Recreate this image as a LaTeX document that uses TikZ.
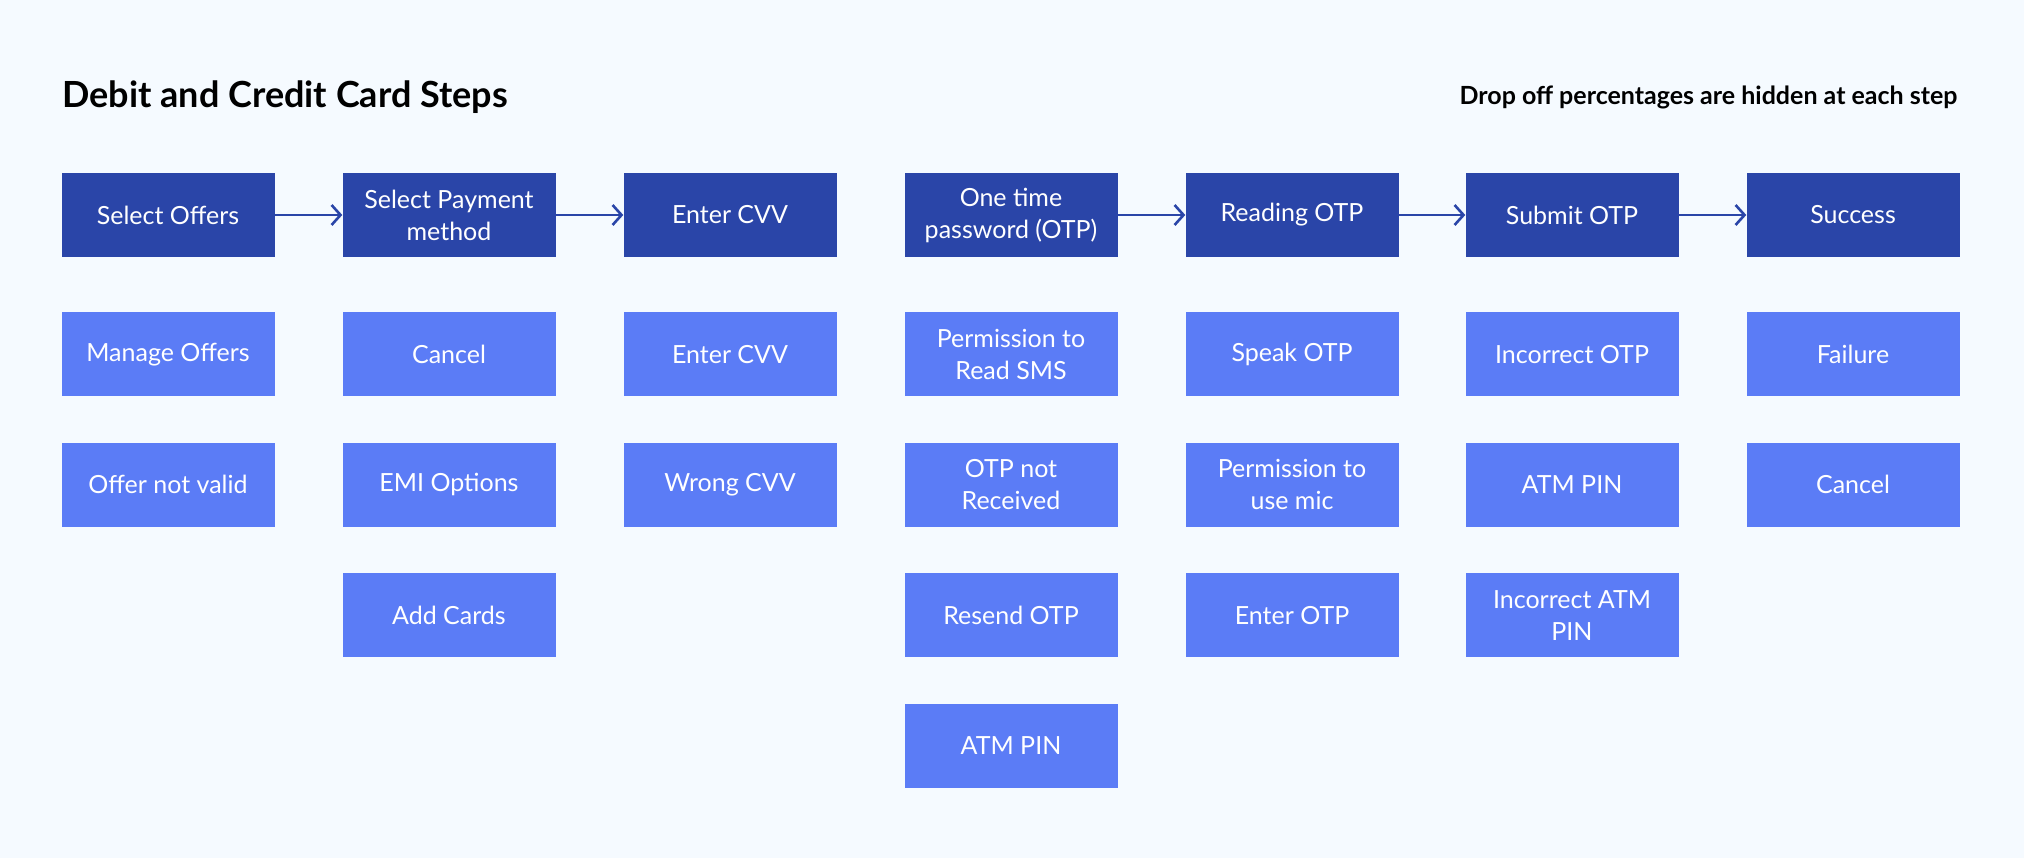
\documentclass[tikz,border=0pt]{standalone}
\usepackage{fontspec}
\setmainfont{Lato}
\usetikzlibrary{positioning,arrows.meta}
\definecolor{stepblue}{HTML}{2A45A8}
\definecolor{subblue}{HTML}{5B7CF6}
\definecolor{pagebg}{HTML}{F5FAFF}

\begin{document}
\begin{tikzpicture}[
  x=1pt, y=-1pt,
  node distance=46pt,
  stepbox/.style={rectangle, fill=stepblue, text=white, minimum width=213pt, minimum height=84pt, inner sep=0pt, align=center, font=\fontsize{25}{32}\selectfont},
  subbox/.style={stepbox, fill=subblue},
  arrow/.style={-{Straight Barb[length=9pt, width=20pt]}, line width=2.6pt, draw=stepblue},
  heading/.style={font=\bfseries\fontsize{36}{42}\selectfont, text=black}
]
% Page
\fill[pagebg] (0,0) rectangle (2024,858);
% Headings
\node[heading, anchor=west] (title) at (59,97) {Debit and Credit Card Steps};
\node[heading, anchor=east, font=\bfseries\fontsize{25}{30}\selectfont] (note) at (1961,97) {Drop off percentages are hidden at each step};

% Main steps
\node[stepbox] (offers) at (168,215) {Select Offers};
\node[stepbox] (payment) at (449,215) {Select Payment\\method};
\node[stepbox] (cvv) at (730,215) {Enter CVV};
\node[stepbox] (otp) at (1011,215) {One time\\password (OTP)};
\node[stepbox] (readotp) at (1292,215) {Reading OTP};
\node[stepbox] (submitotp) at (1572,215) {Submit OTP};
\node[stepbox] (success) at (1853,215) {Success};
\draw[arrow] (offers) -- (payment);
\draw[arrow] (payment) -- (cvv);
\draw[arrow] (otp) -- (readotp);
\draw[arrow] (readotp) -- (submitotp);
\draw[arrow] (submitotp) -- (success);

% Sub steps
\node[subbox, below=55pt of offers] (manage) {Manage Offers};
\node[subbox, below=of manage] (invalid) {Offer not valid};

\node[subbox, below=55pt of payment] (cancel) {Cancel};
\node[subbox, below=of cancel] (emi) {EMI Options};
\node[subbox, below=of emi] (addcards) {Add Cards};

\node[subbox, below=55pt of cvv] (entercvv) {Enter CVV};
\node[subbox, below=of entercvv] (wrongcvv) {Wrong CVV};

\node[subbox, below=55pt of otp] (readsms) {Permission to\\Read SMS};
\node[subbox, below=of readsms] (notrecv) {OTP not\\Received};
\node[subbox, below=of notrecv] (resend) {Resend OTP};
\node[subbox, below=of resend] (atmpin) {ATM PIN};

\node[subbox, below=55pt of readotp] (speak) {Speak OTP};
\node[subbox, below=of speak] (mic) {Permission to\\use mic};
\node[subbox, below=of mic] (enterotp) {Enter OTP};

\node[subbox, below=55pt of submitotp] (wrongotp) {Incorrect OTP};
\node[subbox, below=of wrongotp] (atmpintwo) {ATM PIN};
\node[subbox, below=of atmpintwo] (wrongatm) {Incorrect ATM\\PIN};

\node[subbox, below=55pt of success] (failure) {Failure};
\node[subbox, below=of failure] (cancelpay) {Cancel};
\end{tikzpicture}
\end{document}
